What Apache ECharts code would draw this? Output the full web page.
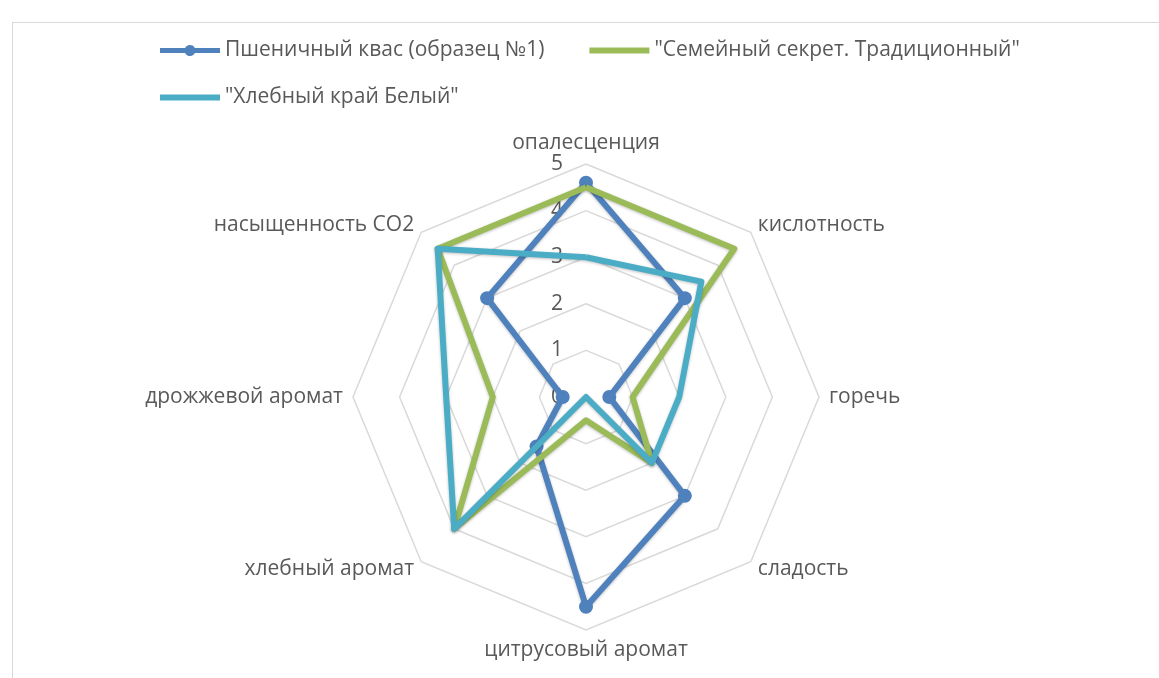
<!DOCTYPE html>
<html>
<head>
<meta charset="utf-8">
<script src="https://cdn.jsdelivr.net/npm/echarts@6/dist/echarts.min.js"></script>
<style>
  html, body { margin: 0; padding: 0; background: #fff; }
  #frame { position: absolute; left: 12px; top: 22px; width: 1160px; height: 670px; border: 1px solid #D9D9D9; }
  #main { position: absolute; left: 0; top: 0; width: 1159px; height: 678px; }
</style>
</head>
<body>
<div id="frame"></div>
<div id="main"></div>
<script>
// оси радара по часовой стрелке, начиная с верхней
var indicators = ['опалесценция', 'кислотность', 'горечь', 'сладость',
    'цитрусовый аромат', 'хлебный аромат', 'дрожжевой аромат', 'насыщенность СО2'];
var seriesNames = ['Пшеничный квас (образец №1)', '"Семейный секрет. Традиционный"', '"Хлебный край Белый"'];
var sample1 = [4.6, 3, 0.5, 3, 4.5, 1.5, 0.5, 3];
var sample2 = [4.5, 4.5, 1, 2, 0.5, 4, 2, 4.5];
var sample3 = [3, 3.5, 2, 2, 0, 4, 3, 4.5];
var colors = ['#4F81BD', '#9BBB59', '#4BACC6'];
var maxValue = 5;

// echarts рисует радар против часовой стрелки - переставляем оси
function clockwise(arr) {
    return [arr[0]].concat(arr.slice(1).reverse());
}

var font = '"Open Sans", "Noto Sans", sans-serif';
var textColor = '#595959';
var iconMarker = 'path://M0,3H25.1A5.5,5.5,0,0,1,34.9,3H60V8H34.9A5.5,5.5,0,0,1,25.1,8H0Z';
var iconLine = 'path://M0,0M60,11M0,2.5H60V8.5H0Z';

var chart = echarts.init(document.getElementById('main'));

var legendBase = {
    left: 155,
    itemWidth: 60,
    itemHeight: 11,
    itemGap: 45,
    textStyle: { fontSize: 21, color: textColor, fontFamily: font }
};

var option = {
    color: colors,
    legend: [
        Object.assign({}, legendBase, {
            top: 35,
            data: [{ name: seriesNames[0], icon: iconMarker }, { name: seriesNames[1], icon: iconLine }]
        }),
        Object.assign({}, legendBase, {
            top: 82,
            data: [{ name: seriesNames[2], icon: iconLine }]
        })
    ],
    radar: {
        center: [586, 397],
        radius: 233,
        startAngle: 90,
        shape: 'polygon',
        splitNumber: 5,
        nameGap: 10,
        axisName: { color: textColor, fontSize: 21, fontFamily: font },
        axisLine: { show: false },
        axisTick: { show: false },
        axisLabel: { show: false },
        splitLine: { lineStyle: { color: '#D9D9D9', width: 1.5 } },
        splitArea: { show: false },
        indicator: clockwise(indicators).map(function (name, i) {
            var ind = { name: name, min: 0, max: maxValue };
            if (i === 0) {
                ind.axisLabel = { show: true, color: textColor, fontSize: 21, fontFamily: font, margin: 23, showMinLabel: true };
            }
            return ind;
        })
    },
    series: [sample1, sample2, sample3].map(function (values, i) {
        return {
            type: 'radar',
            symbol: i === 0 ? 'circle' : 'none',
            symbolSize: 14,
            z: 2 + i,
            data: [{
                name: seriesNames[i],
                value: clockwise(values),
                lineStyle: { width: 6, color: colors[i], shadowBlur: 3, shadowColor: 'rgba(0,0,0,0.25)', shadowOffsetY: 1 },
                itemStyle: { color: colors[i] }
            }]
        };
    })
};
chart.setOption(option);
</script>
</body>
</html>
